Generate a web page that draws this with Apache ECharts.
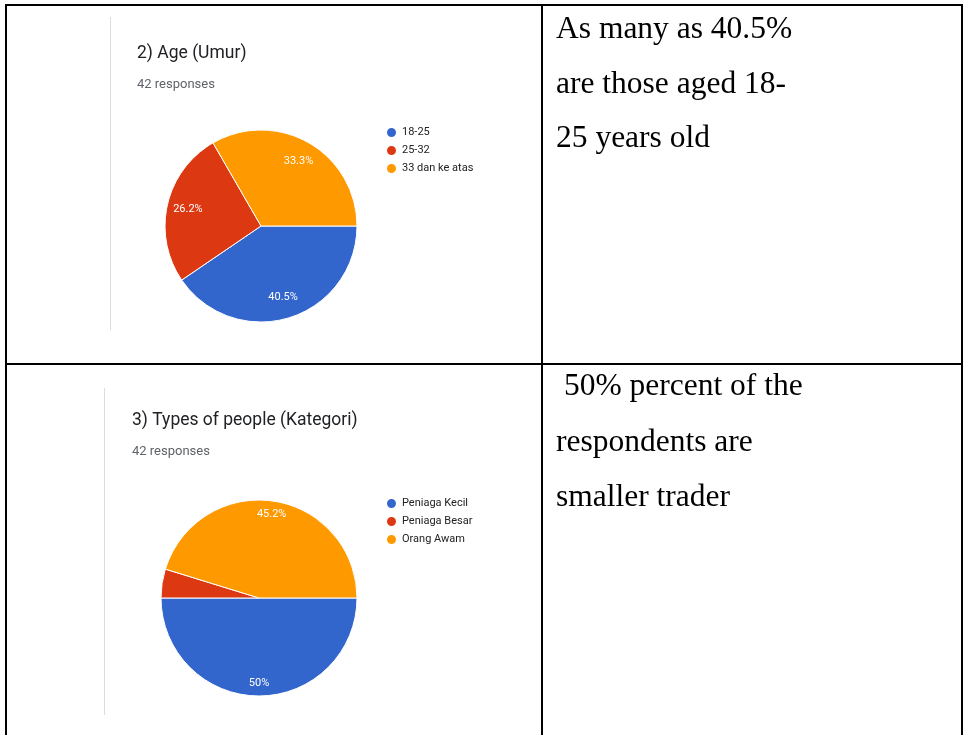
<!DOCTYPE html>
<html>
<head>
<meta charset="utf-8">
<script src="https://cdn.jsdelivr.net/npm/echarts@6/dist/echarts.min.js"></script>
<style>
html,body{margin:0;padding:0;background:#fff;}
#chart{width:964px;height:735px;}
</style>
</head>
<body>
<div id="chart"></div>
<script>
// ---- Data ----
const ageTitle = '2) Age (Umur)';
const ageResponses = '42 responses';
const ageCategories = ['18-25', '25-32', '33 dan ke atas'];
const ageCounts = [17, 11, 14];

const typeTitle = '3) Types of people (Kategori)';
const typeResponses = '42 responses';
const typeCategories = ['Peniaga Kecil', 'Peniaga Besar', 'Orang Awam'];
const typeCounts = [21, 2, 19];

const sliceColors = ['#3366CC', '#DC3912', '#FF9900'];

const ageNote = ['As many as 40.5%', 'are those aged 18-', '25 years old'];
const typeNote = [' 50% percent of the', 'respondents are', 'smaller trader'];

// ---- Build ----
function toData(cats, vals) {
  return cats.map((c, i) => ({ name: c, value: vals[i], itemStyle: { color: sliceColors[i] } }));
}
function pctFmt(p) {
  if (p.percent < 5) return '';
  return (+p.percent.toFixed(1)) + '%';
}
function mainPie(cats, vals, center, r) {
  return {
    type: 'pie', center: center, radius: r, startAngle: 0, clockwise: true,
    data: toData(cats, vals), label: { show: false }, labelLine: { show: false },
    itemStyle: { borderColor: '#fff', borderWidth: 1 },
    emphasis: { scale: false }, animation: false
  };
}
function labelPie(cats, vals, center, r0, r) {
  return {
    type: 'pie', center: center, radius: [r0, r], startAngle: 0, clockwise: true,
    percentPrecision: 1, silent: true,
    data: cats.map((c, i) => ({ name: c, value: vals[i] })),
    itemStyle: { color: 'rgba(0,0,0,0)', borderWidth: 0 },
    label: { show: true, position: 'inside', formatter: pctFmt, color: '#fff',
             fontFamily: 'Roboto', fontSize: 11 },
    labelLine: { show: false }, emphasis: { disabled: true }, animation: false
  };
}
function noteTexts(lines, x, ys) {
  return lines.map((t, i) => ({
    type: 'text', left: x, top: ys[i],
    style: { text: t, font: '31.5px "Liberation Serif", "Times New Roman", serif', fill: '#000' }
  }));
}
function vline(x, y1, y2, w, c) {
  return { type: 'line', shape: { x1: x, y1: y1, x2: x, y2: y2 }, style: { stroke: c, lineWidth: w } };
}
function hline(y, x1, x2, w, c) {
  return { type: 'line', shape: { x1: x1, y1: y, x2: x2, y2: y }, style: { stroke: c, lineWidth: w } };
}

const chart = echarts.init(document.getElementById('chart'), null, { renderer: 'canvas' });
const titleStyle = { fontFamily: 'Roboto', fontSize: 17.5, fontWeight: 'normal', color: '#202124' };
const subStyle = { fontFamily: 'Roboto', fontSize: 13, color: '#5f6368' };
const legendBase = {
  orient: 'vertical', icon: 'circle', itemWidth: 11, itemHeight: 11, itemGap: 5,
  padding: 0, selectedMode: false,
  textStyle: { fontFamily: 'Roboto', fontSize: 11, color: '#222', lineHeight: 12 }
};

chart.setOption({
  backgroundColor: '#fff',
  animation: false,
  title: [
    { text: ageTitle, subtext: ageResponses, left: 137, top: 45, padding: 0, itemGap: 15,
      textStyle: titleStyle, subtextStyle: subStyle },
    { text: typeTitle, subtext: typeResponses, left: 132, top: 412, padding: 0, itemGap: 15,
      textStyle: titleStyle, subtextStyle: subStyle }
  ],
  legend: [
    Object.assign({}, legendBase, { data: ageCategories, left: 385, top: 126 }),
    Object.assign({}, legendBase, { data: typeCategories, left: 385, top: 497 })
  ],
  series: [
    mainPie(ageCategories, ageCounts, [261, 226], 96),
    mainPie(typeCategories, typeCounts, [259, 598], 98),
    labelPie(ageCategories, ageCounts, [261, 226], 48, 96),
    labelPie(typeCategories, typeCounts, [259, 598], 66, 98)
  ],
  graphic: [].concat(
    [
      vline(6, 4, 735, 2, '#000'),
      vline(542, 4, 735, 2, '#000'),
      vline(962, 4, 735, 2, '#000'),
      hline(5, 5, 963, 2, '#000'),
      hline(364, 5, 963, 2, '#000'),
      vline(110.5, 17, 330, 1, '#dadce0'),
      vline(104.5, 388, 715, 1, '#dadce0')
    ],
    noteTexts(ageNote, 556, [14, 69, 123]),
    noteTexts(typeNote, 556, [371, 427, 482])
  )
});
</script>
</body>
</html>
